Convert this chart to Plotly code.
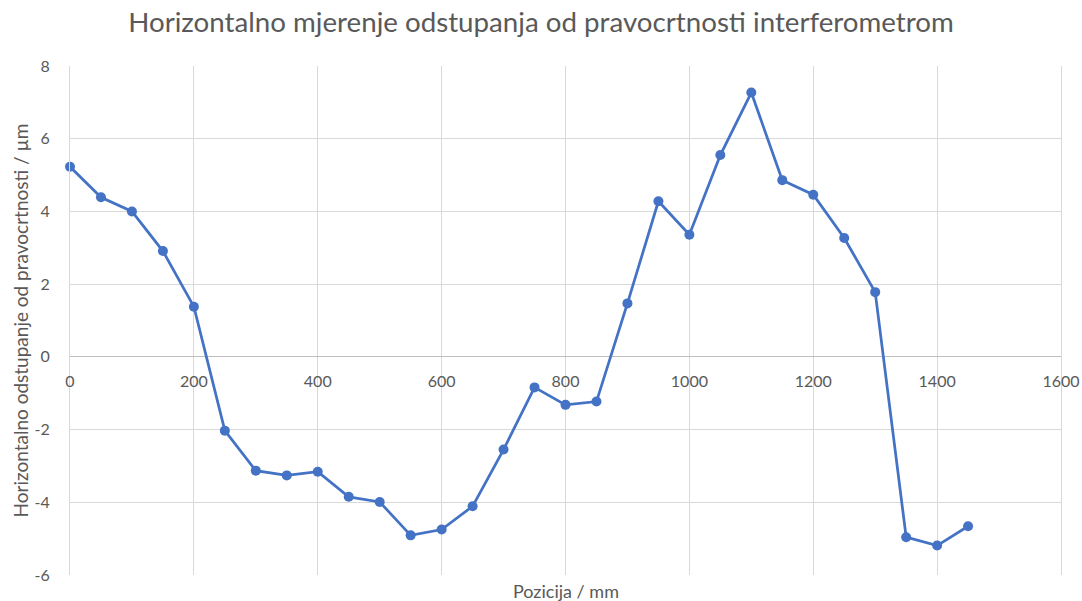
import plotly.graph_objects as go

pozicija = [0, 50, 100, 150, 200, 250, 300, 350, 400, 450, 500, 550, 600, 650, 700,
            750, 800, 850, 900, 950, 1000, 1050, 1100, 1150, 1200, 1250, 1300, 1350, 1400, 1450]
odstupanje = [5.23, 4.39, 4.00, 2.91, 1.38, -2.03, -3.13, -3.26, -3.16, -3.85, -3.99, -4.91,
              -4.75, -4.11, -2.55, -0.84, -1.32, -1.23, 1.47, 4.28, 3.36, 5.55, 7.27, 4.86,
              4.46, 3.27, 1.78, -4.96, -5.19, -4.66]

x_range = [0, 1600]
y_range = [-6, 8]
x_ticks = [0, 200, 400, 600, 800, 1000, 1200, 1400, 1600]
y_ticks = [-6, -4, -2, 0, 2, 4, 6, 8]

title_text = "Horizontalno mjerenje odstupanja od pravocrtnosti interferometrom"
x_title = "Pozicija / mm"
y_title = "Horizontalno odstupanje od pravocrtnosti / µm"

FONT = "Lato"
GRAY = "#595959"

fig = go.Figure()
fig.add_trace(go.Scatter(
    x=pozicija, y=odstupanje, mode="lines+markers",
    line=dict(color="#4472C4", width=2.75),
    marker=dict(color="#4472C4", size=10),
    cliponaxis=False,
    showlegend=False,
))

zero_pos = (0 - y_range[0]) / (y_range[1] - y_range[0])

fig.update_layout(
    width=1082, height=601,
    margin=dict(l=70, r=21, t=66, b=26),
    paper_bgcolor="white", plot_bgcolor="white",
    font=dict(family=FONT, color=GRAY),
    title=dict(text=title_text, x=0.5, xanchor="center", yref="container", y=0.963,
               yanchor="middle", font=dict(family=FONT, size=27.7, color=GRAY)),
    xaxis=dict(
        range=x_range, tickvals=x_ticks, ticktext=[str(v) for v in x_ticks],
        showgrid=True, gridcolor="#d9d9d9", gridwidth=1,
        anchor="free", position=zero_pos, showline=False, zeroline=False,
        ticks="", ticklabelstandoff=13, tickfont=dict(size=16, color=GRAY),
        automargin=False,
    ),
    yaxis=dict(
        range=y_range, tickvals=y_ticks, ticktext=[str(v) for v in y_ticks],
        showgrid=True, gridcolor="#d9d9d9", gridwidth=1,
        zeroline=True, zerolinecolor="#bfbfbf", zerolinewidth=1,
        showline=True, mirror=True, linecolor="#d9d9d9", linewidth=1,
        ticks="", ticklabelstandoff=16, tickfont=dict(size=16, color=GRAY),
        title=dict(text=y_title, font=dict(size=19, color=GRAY), standoff=0),
        automargin=False,
    ),
    annotations=[dict(text=x_title, xref="paper", yref="paper", x=0.5, y=-0.032,
                      xanchor="center", yanchor="middle", showarrow=False,
                      font=dict(size=18, color=GRAY, family=FONT))],
)

fig.write_html("out.html", config={"displayModeBar": False},
               post_script="document.body.style.margin='0px';document.body.style.overflow='hidden';")
